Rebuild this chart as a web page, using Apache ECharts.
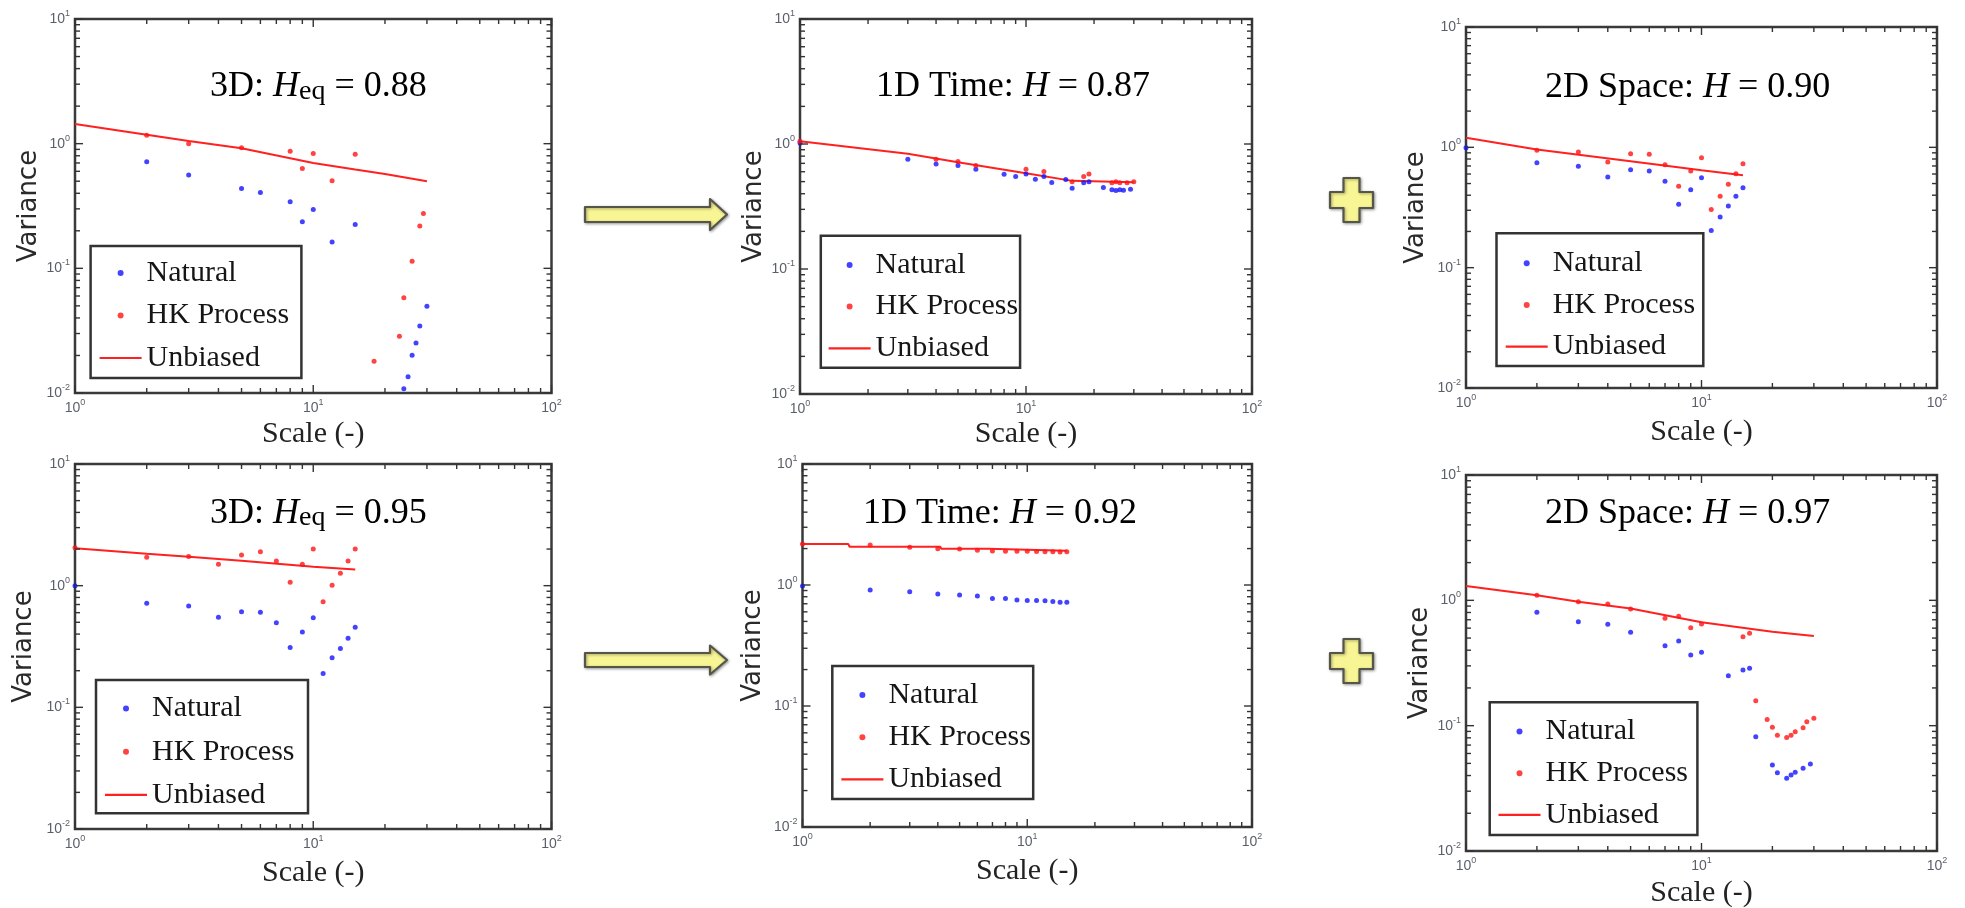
<!DOCTYPE html>
<html><head><meta charset="utf-8">
<script src="https://cdn.jsdelivr.net/npm/echarts@6/dist/echarts.min.js"></script>
<style>html,body{margin:0;padding:0;background:#fff}#c{width:1965px;height:908px}</style>
</head><body><div id="c"></div>
<script>
// ---------------- DATA ----------------
const seriesNames = ['Natural', 'HK Process', 'Unbiased'];
const xTickValues = [1, 10, 100];
const yTickValues = [0.01, 0.1, 1, 10];
const xMinorTicks = [2,3,4,5,6,7,8,9,20,30,40,50,60,70,80,90];
const yMinorTicks = [0.02,0.03,0.04,0.05,0.06,0.07,0.08,0.09,0.2,0.3,0.4,0.5,0.6,0.7,0.8,0.9,2,3,4,5,6,7,8,9];
const exponentLabels = {'1': '0', '10': '1', '100': '2', '0.01': '-2', '0.1': '-1'};

const titleParts = [
  [['3D: ', 'n'], ['H', 'i'], ['eq', 'sub'], [' = 0.88', 'n']],
  [['1D Time: ', 'n'], ['H', 'i'], [' = 0.87', 'n']],
  [['2D Space: ', 'n'], ['H', 'i'], [' = 0.90', 'n']],
  [['3D: ', 'n'], ['H', 'i'], ['eq', 'sub'], [' = 0.95', 'n']],
  [['1D Time: ', 'n'], ['H', 'i'], [' = 0.92', 'n']],
  [['2D Space: ', 'n'], ['H', 'i'], [' = 0.97', 'n']]
];

// Panel 1: 3D, Heq = 0.88
const p1Natural = [[2,0.716],[3,0.56],[5,0.437],[6,0.406],[8,0.342],[9,0.236],[10,0.296],[12,0.163],[15,0.225],[24,0.0108],[25,0.0135],[26,0.0201],[27,0.0252],[28,0.0345],[30,0.0497]];
const p1HK = [[2,1.17],[3,1.0],[5,0.927],[8,0.87],[9,0.632],[10,0.835],[12,0.503],[15,0.824],[18,0.018],[23,0.0285],[24,0.058],[26,0.114],[28,0.219],[29,0.275]];
const p1Unbiased = [[1,1.44],[2,1.18],[3,1.05],[5,0.92],[10,0.70],[15,0.62],[20,0.57],[30,0.50]];

// Panel 2: 1D Time, H = 0.87
const p2Natural = [[1,1.02],[3,0.755],[4,0.693],[5,0.673],[6,0.628],[8,0.573],[9,0.55],[10,0.575],[11,0.523],[12,0.55],[13,0.492],[15,0.52],[16,0.443],[18,0.49],[19,0.5],[22,0.449],[24,0.43],[25,0.425],[26,0.43],[27,0.427],[29,0.435]];
const p2HK = [[1,1.05],[4,0.755],[5,0.724],[6,0.673],[10,0.628],[12,0.603],[16,0.5],[18,0.55],[19,0.575],[24,0.49],[25,0.5],[26,0.49],[28,0.49],[30,0.5]];
const p2Unbiased = [[1,1.05],[3,0.834],[5,0.715],[10,0.584],[16,0.507],[30,0.495]];

// Panel 3: 2D Space, H = 0.90
const p3Natural = [[1,0.994],[2,0.746],[3,0.695],[4,0.567],[5,0.652],[6,0.636],[7,0.522],[8,0.336],[9,0.445],[10,0.56],[11,0.204],[12,0.264],[13,0.325],[14,0.392],[15,0.462]];
const p3HK = [[2,0.944],[3,0.915],[4,0.755],[5,0.886],[6,0.875],[7,0.718],[8,0.474],[9,0.636],[10,0.82],[11,0.305],[12,0.392],[13,0.493],[14,0.604],[15,0.732]];
const p3Unbiased = [[1,1.20],[2,0.96],[5,0.765],[10,0.644],[15,0.585]];

// Panel 4: 3D, Heq = 0.95
const p4Natural = [[1,1.0],[2,0.716],[3,0.68],[4,0.55],[5,0.611],[6,0.604],[7,0.496],[8,0.311],[9,0.416],[10,0.546],[11,0.19],[12,0.256],[13,0.305],[14,0.369],[15,0.455]];
const p4HK = [[1,2.05],[2,1.71],[3,1.74],[4,1.5],[5,1.79],[6,1.90],[7,1.595],[8,1.065],[9,1.5],[10,2.0],[11,0.739],[12,1.01],[13,1.263],[14,1.595],[15,2.0]];
const p4Unbiased = [[1,2.03],[2,1.83],[3,1.73],[5,1.605],[10,1.43],[15,1.36]];

// Panel 5: 1D Time, H = 0.92
const p5Natural = [[1,0.98],[2,0.908],[3,0.879],[4,0.841],[5,0.825],[6,0.81],[7,0.774],[8,0.774],[9,0.75],[10,0.745],[11,0.745],[12,0.74],[13,0.73],[14,0.72],[15,0.72]];
const p5HK = [[1,2.18],[2,2.14],[3,2.05],[4,1.99],[5,1.98],[6,1.94],[7,1.91],[8,1.90],[9,1.90],[10,1.90],[11,1.89],[12,1.88],[13,1.88],[14,1.87],[15,1.88]];
const p5Unbiased = [[1,2.18],[1.6,2.18],[1.62,2.07],[4.1,2.07],[4.15,1.99],[6.7,1.99],[6.8,1.92],[15,1.92]];

// Panel 6: 2D Space, H = 0.97
const p6Natural = [[2,0.802],[3,0.676],[4,0.643],[5,0.556],[7,0.435],[8,0.474],[9,0.366],[10,0.385],[13,0.25],[15,0.278],[16,0.287],[17,0.0817],[20,0.0486],[21,0.0422],[23,0.038],[24,0.0404],[25,0.0424],[27,0.0457],[29,0.0495]];
const p6HK = [[2,1.10],[3,0.976],[4,0.935],[5,0.853],[7,0.718],[8,0.745],[9,0.605],[10,0.647],[15,0.513],[16,0.546],[17,0.158],[19,0.112],[20,0.097],[21,0.084],[23,0.0806],[24,0.084],[25,0.0895],[27,0.0964],[28,0.1076],[30,0.1144]];
const p6Unbiased = [[1,1.30],[2,1.10],[3,0.976],[5,0.86],[10,0.668],[20,0.562],[30,0.519]];

const panelData = [
  [p1Natural, p1HK, p1Unbiased],
  [p2Natural, p2HK, p2Unbiased],
  [p3Natural, p3HK, p3Unbiased],
  [p4Natural, p4HK, p4Unbiased],
  [p5Natural, p5HK, p5Unbiased],
  [p6Natural, p6HK, p6Unbiased]
];

// ---------------- LAYOUT ----------------
const layout = [
  {grid:[75,19,476.5,374],   title:[210,99],    box:[90.6,246,301.4,378],    iconLeft:99.6,  padTop:12,   gap:12.5,  xGap:26, yGap:32},
  {grid:[800,19,452,375],    title:[876,99],    box:[820.8,235.7,1020,367.7],iconLeft:828.6, padTop:14.2, gap:11.7,  xGap:25, yGap:26},
  {grid:[1466,27,471,361],   title:[1545,99.3], box:[1496.5,233.3,1703.3,366],iconLeft:1505.7,padTop:15,   gap:11.65, xGap:29, yGap:37},
  {grid:[75,464,476.5,365],  title:[210,525.5], box:[96,680,308,813.3],      iconLeft:105,   padTop:13.5, gap:13.15, xGap:29, yGap:38},
  {grid:[802.5,464,449.5,363],title:[863,525.5],box:[832.3,666,1033.2,799],  iconLeft:841.4, padTop:14,   gap:12.2,  xGap:29, yGap:36},
  {grid:[1466,475,471,376],  title:[1545,526],  box:[1489.7,702.3,1697.4,835],iconLeft:1498.5,padTop:14.3, gap:11.65, xGap:27, yGap:33}
];

const LEG_FS = 30, LEG_ICON_W = 42, LEG_ICON_H = 6;

const mctx = document.createElement('canvas').getContext('2d');
function textWidth(t, font) { mctx.font = font; return mctx.measureText(t).width; }
const hkW = textWidth('HK Process', LEG_FS + 'px Liberation Serif');

const labelRich = {
  b: {fontFamily: 'Liberation Sans', fontSize: 14, lineHeight: 20, color: '#5a5f6a'},
  s: {fontFamily: 'Liberation Sans', fontSize: 9, lineHeight: 9, verticalAlign: 'top', color: '#5a5f6a'}
};
function expFormatter(v) {
  const key = String(+v.toPrecision(6));
  const e = exponentLabels[key] !== undefined ? exponentLabels[key] : String(Math.round(Math.log10(v)));
  return '{b|10}{s|' + e + '}';
}

function tickRender(params, api) {
  const cs = params.coordSys;
  const x0 = cs.x, x1 = cs.x + cs.width, y0 = cs.y, y1 = cs.y + cs.height;
  const children = [];
  const st = {stroke: '#333', lineWidth: 1.4};
  function add(a, b, c, d) { children.push({type: 'line', shape: {x1: a, y1: b, x2: c, y2: d}, style: st}); }
  xMinorTicks.forEach(function (v) { const px = api.coord([v, 1])[0]; add(px, y1, px, y1 - 5); add(px, y0, px, y0 + 5); });
  xTickValues.forEach(function (v) { const px = api.coord([v, 1])[0]; add(px, y1, px, y1 - 8); add(px, y0, px, y0 + 8); });
  yMinorTicks.forEach(function (v) { const py = api.coord([1, v])[1]; add(x0, py, x0 + 5, py); add(x1, py, x1 - 5, py); });
  yTickValues.forEach(function (v) { const py = api.coord([1, v])[1]; add(x0, py, x0 + 8, py); add(x1, py, x1 - 8, py); });
  return {type: 'group', children: children};
}

const grids = [], xAxes = [], yAxes = [], series = [], legends = [], graphics = [];

layout.forEach(function (L, i) {
  grids.push({left: L.grid[0], top: L.grid[1], width: L.grid[2], height: L.grid[3],
    show: true, borderColor: '#3a3a3a', borderWidth: 2.5, backgroundColor: 'transparent',
    containLabel: false, outerBoundsMode: 'none'});
  xAxes.push({type: 'log', logBase: 10, gridIndex: i, min: 1, max: 100,
    name: 'Scale (-)', nameLocation: 'middle', nameGap: L.xGap,
    nameTextStyle: {fontFamily: 'Liberation Serif', fontSize: 30, color: '#222', lineHeight: 30},
    axisLine: {show: false}, axisTick: {show: false}, splitLine: {show: false}, minorTick: {show: false},
    axisLabel: {margin: 5, formatter: expFormatter, rich: labelRich, showMinLabel: true, showMaxLabel: true}});
  yAxes.push({type: 'log', logBase: 10, gridIndex: i, min: 0.01, max: 10,
    name: 'Variance', nameLocation: 'middle', nameGap: L.yGap,
    nameTextStyle: {fontFamily: 'DejaVu Sans', fontSize: 26, color: '#2a2a2a', lineHeight: 26},
    axisLine: {show: false}, axisTick: {show: false}, splitLine: {show: false}, minorTick: {show: false},
    axisLabel: {margin: 5, formatter: expFormatter, rich: labelRich, showMinLabel: true, showMaxLabel: true}});

  const d = panelData[i];
  series.push({type: 'line', name: 'Unbiased', xAxisIndex: i, yAxisIndex: i, data: d[2],
    symbol: 'none', showSymbol: false, color: '#ff2020', lineStyle: {color: '#ff2020', width: 2}, z: 2, animation: false});
  series.push({type: 'scatter', name: 'Natural', xAxisIndex: i, yAxisIndex: i, data: d[0],
    symbol: 'circle', symbolSize: 5, itemStyle: {color: '#1414ff'}, z: 3, animation: false});
  series.push({type: 'scatter', name: 'HK Process', xAxisIndex: i, yAxisIndex: i, data: d[1],
    symbol: 'circle', symbolSize: 5, itemStyle: {color: '#ff1414'}, z: 3, animation: false});
  series.push({type: 'custom', name: '_ticks' + i, xAxisIndex: i, yAxisIndex: i, data: [[1, 1]],
    renderItem: tickRender, silent: true, clip: false, z: 4, animation: false});

  const boxW = L.box[2] - L.box[0], boxH = L.box[3] - L.box[1];
  const padLeft = L.iconLeft - L.box[0];
  const contentW = LEG_ICON_W + 5 + hkW;
  const padRight = Math.max(2, boxW - padLeft - contentW);
  const padBottom = Math.max(2, boxH - L.padTop - 3 * LEG_FS - 2 * L.gap);
  legends.push({show: true, orient: 'vertical', left: L.box[0], top: L.box[1],
    padding: [L.padTop, padRight, padBottom, padLeft], itemGap: L.gap,
    itemWidth: LEG_ICON_W, itemHeight: LEG_ICON_H, align: 'left',
    backgroundColor: '#fff', borderColor: '#333', borderWidth: 2.5, borderRadius: 0,
    selectedMode: false,
    data: [
      {name: seriesNames[0], icon: 'circle'},
      {name: seriesNames[1], icon: 'circle'},
      {name: seriesNames[2], icon: 'path://M0,0L42,0L42,2.2L0,2.2Z'}
    ],
    textStyle: {fontFamily: 'Liberation Serif', fontSize: LEG_FS, lineHeight: LEG_FS, color: '#151515'}});

  // title text
  let cx = L.title[0];
  const baseY = L.title[1];
  titleParts[i].forEach(function (p) {
    const t = p[0], kind = p[1];
    let fs = 36, fstyle = 'normal', dy = 0;
    if (kind === 'i') fstyle = 'italic';
    if (kind === 'sub') { fs = 28; dy = 2; }
    const font = (fstyle === 'italic' ? 'italic ' : '') + fs + 'px Liberation Serif';
    const w = textWidth(t, font);
    graphics.push({type: 'text', x: cx, y: baseY + dy - fs * 0.3375, z: 10, silent: true,
      style: {text: t, fontFamily: 'Liberation Serif', fontSize: fs, fontStyle: fstyle, fill: '#000',
        align: 'left', verticalAlign: 'middle', textAlign: 'left', textVerticalAlign: 'middle'}});
    cx += w;
  });
});

// decorative arrows and plus signs
function arrowPts(y0, y1, hy0, hy1) {
  const cy = (hy0 + hy1) / 2;
  return [[585, y0], [710, y0], [710, hy0], [727, cy], [710, hy1], [710, y1], [585, y1]];
}
function plusPts(cx, cy) {
  const a = 21.5, b = 22, t = 8;
  return [[cx - t, cy - b], [cx + t, cy - b], [cx + t, cy - t], [cx + a, cy - t], [cx + a, cy + t], [cx + t, cy + t],
          [cx + t, cy + b], [cx - t, cy + b], [cx - t, cy + t], [cx - a, cy + t], [cx - a, cy - t], [cx - t, cy - t]];
}
const decoStyle = {fill: '#f8f694', stroke: '#55554a', lineWidth: 2.2, lineJoin: 'round',
  shadowBlur: 3, shadowColor: 'rgba(0,0,0,0.35)', shadowOffsetX: 1, shadowOffsetY: 1};
graphics.push({type: 'polygon', shape: {points: arrowPts(207, 222, 199, 230)}, style: decoStyle, z: 10, silent: true});
graphics.push({type: 'polygon', shape: {points: arrowPts(653, 667, 645.5, 674.5)}, style: decoStyle, z: 10, silent: true});
graphics.push({type: 'polygon', shape: {points: plusPts(1351.5, 200)}, style: decoStyle, z: 10, silent: true});
graphics.push({type: 'polygon', shape: {points: plusPts(1351.5, 661)}, style: decoStyle, z: 10, silent: true});

const chart = echarts.init(document.getElementById('c'));
chart.setOption({
  animation: false,
  backgroundColor: '#fff',
  grid: grids, xAxis: xAxes, yAxis: yAxes, series: series, legend: legends,
  graphic: {elements: graphics}
});
</script>
</body></html>
